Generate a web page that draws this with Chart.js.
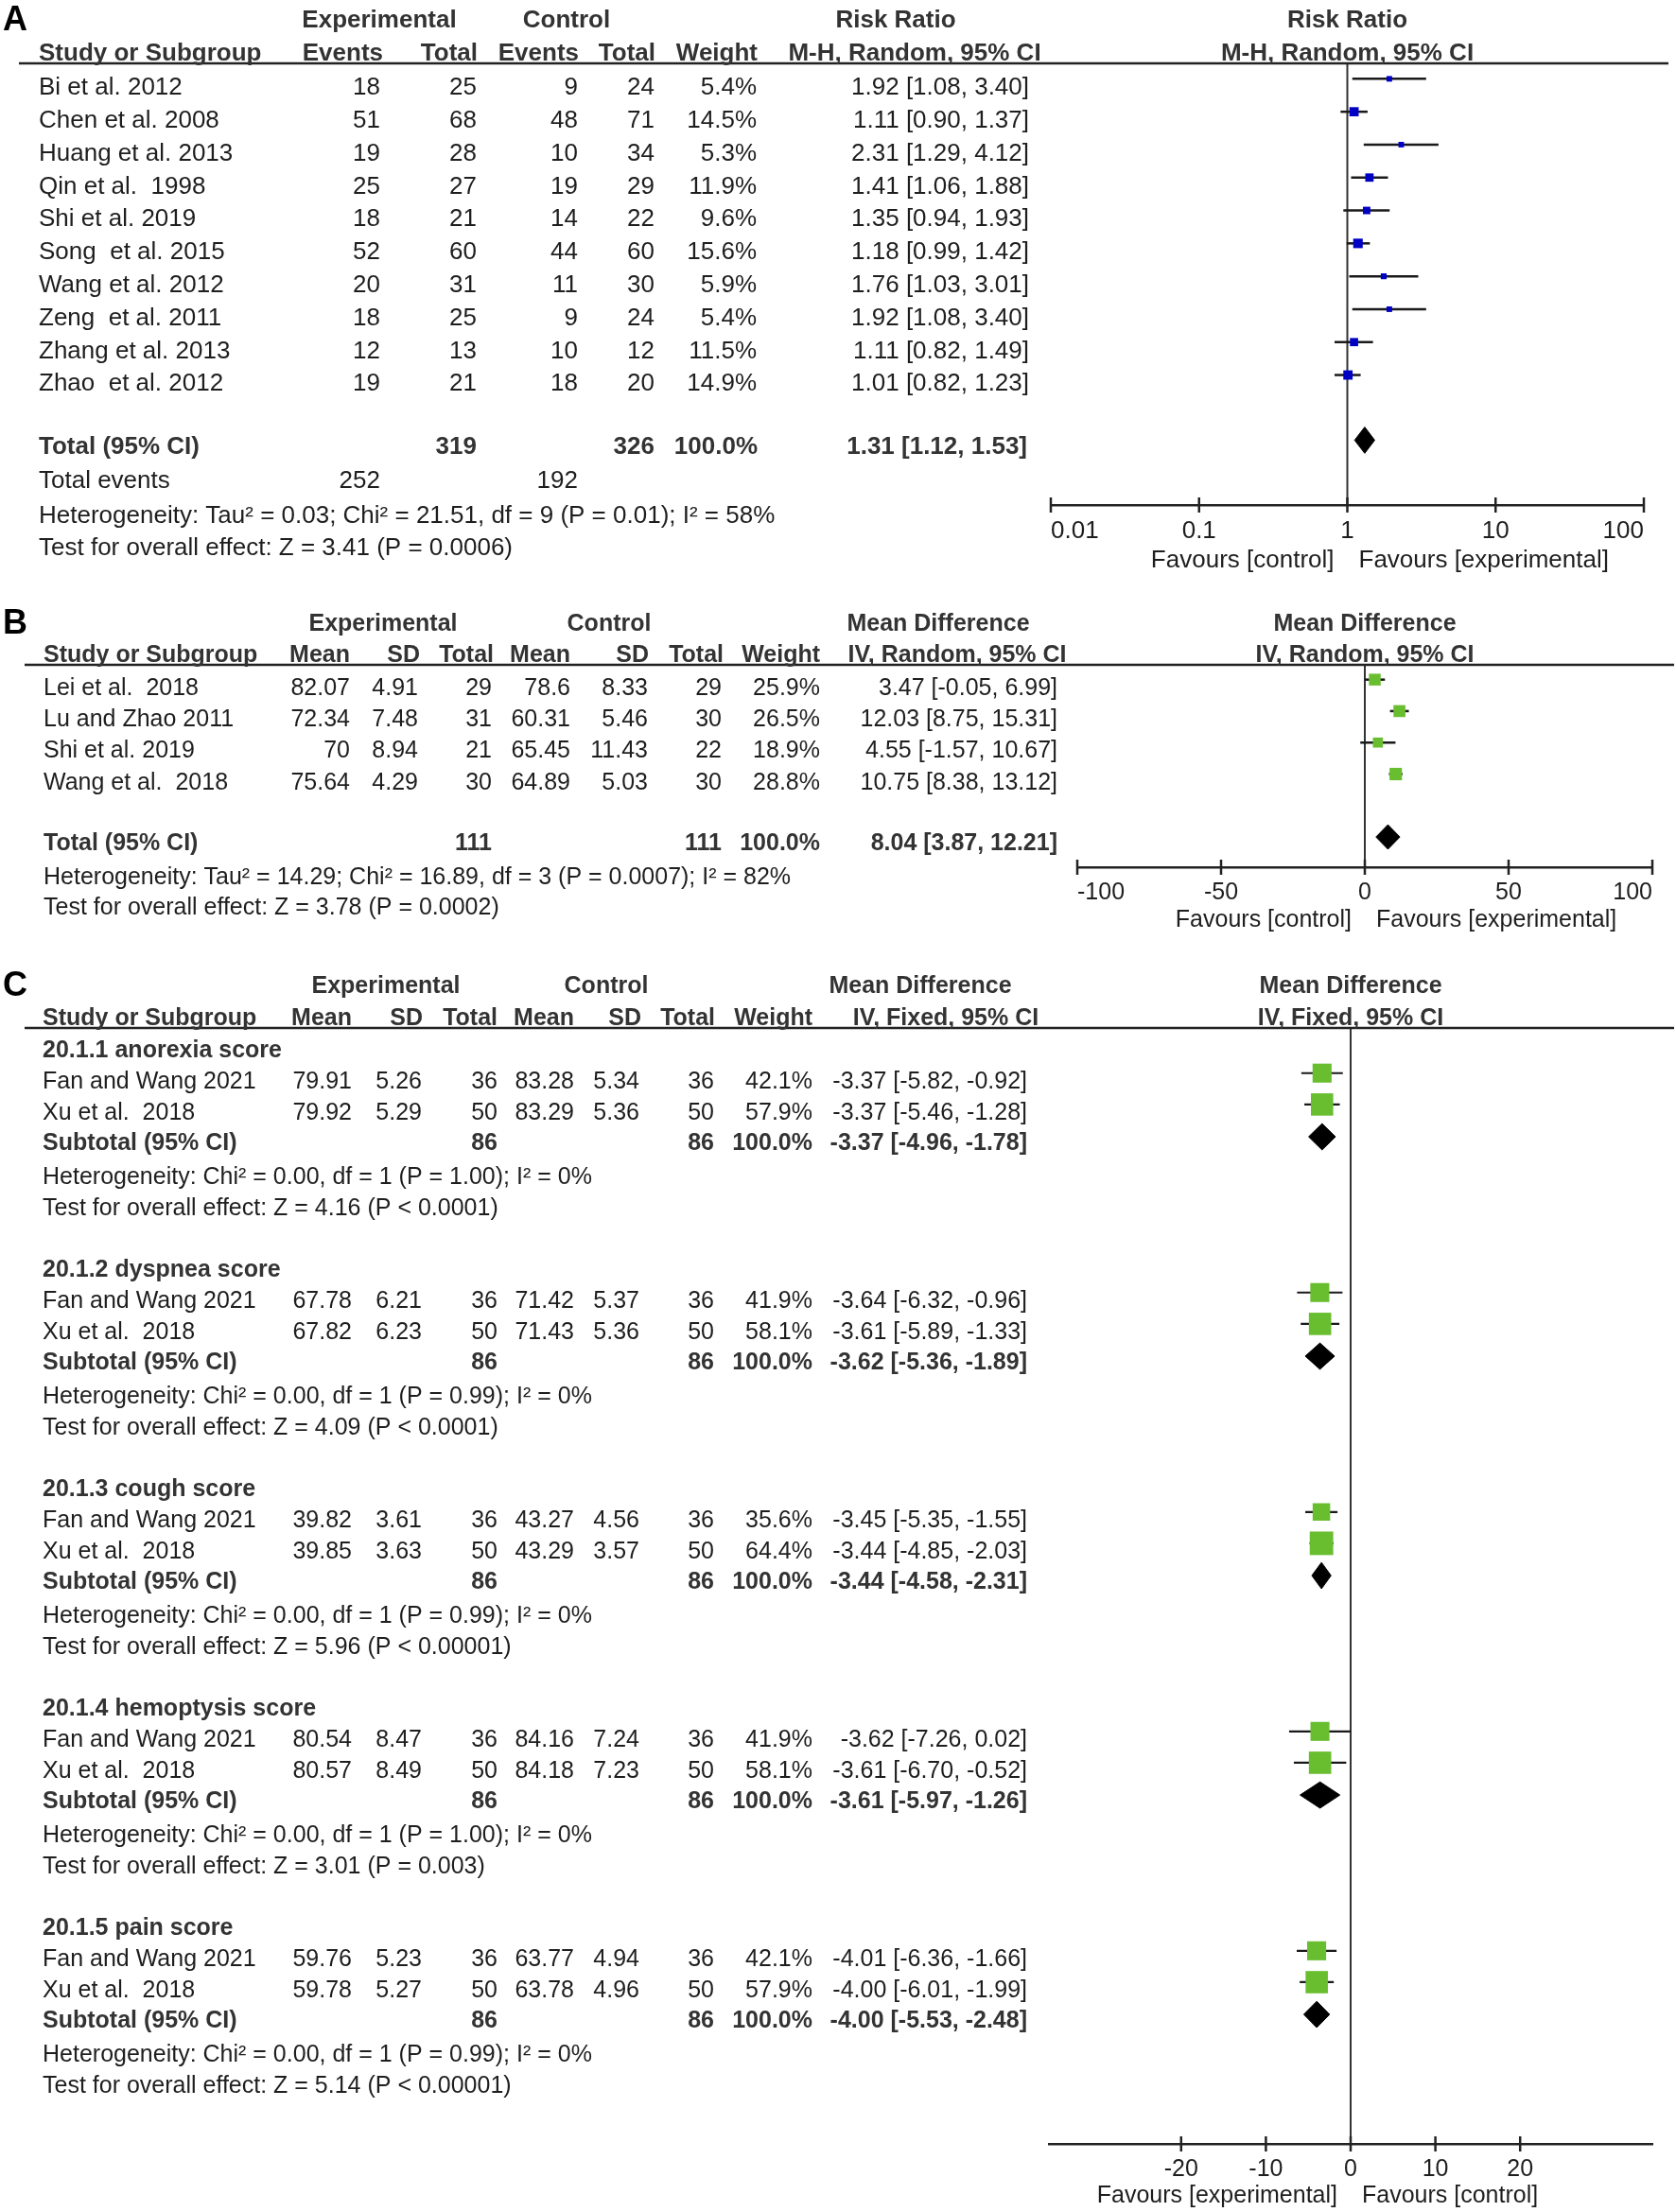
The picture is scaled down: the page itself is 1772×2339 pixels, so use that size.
<!DOCTYPE html>
<html>
<head>
<meta charset="utf-8">
<script src="https://cdn.jsdelivr.net/npm/chart.js@4.4.1/dist/chart.umd.min.js"></script>
<style>
  html, body { margin: 0; padding: 0; background: #fff; }
  body { width: 1772px; height: 2339px; position: relative; overflow: hidden; }
  .panel { position: absolute; left: 0; width: 1772px; }
  .panel canvas { display: block; }
</style>
</head>
<body>
<div class="panel" style="top:0px"><canvas id="chartA" width="1772" height="620"></canvas></div>
<div class="panel" style="top:620px"><canvas id="chartB" width="1772" height="390"></canvas></div>
<div class="panel" style="top:1010px"><canvas id="chartC" width="1772" height="1329"></canvas></div>
<script>
// ---- Panel A : risk ratio ----
const studiesA = ['Bi et al. 2012', 'Chen et al. 2008', 'Huang et al. 2013', 'Qin et al.  1998', 'Shi et al. 2019',
                  'Song  et al. 2015', 'Wang et al. 2012', 'Zeng  et al. 2011', 'Zhang et al. 2013', 'Zhao  et al. 2012'];
const expEventsA = [18, 51, 19, 25, 18, 52, 20, 18, 12, 19];
const expTotalA  = [25, 68, 28, 27, 21, 60, 31, 25, 13, 21];
const ctlEventsA = [9, 48, 10, 19, 14, 44, 11, 9, 10, 18];
const ctlTotalA  = [24, 71, 34, 29, 22, 60, 30, 24, 12, 20];
const weightA    = [5.4, 14.5, 5.3, 11.9, 9.6, 15.6, 5.9, 5.4, 11.5, 14.9];
const rrA        = [1.92, 1.11, 2.31, 1.41, 1.35, 1.18, 1.76, 1.92, 1.11, 1.01];
const rrLoA      = [1.08, 0.90, 1.29, 1.06, 0.94, 0.99, 1.03, 1.08, 0.82, 0.82];
const rrHiA      = [3.40, 1.37, 4.12, 1.88, 1.93, 1.42, 3.01, 3.40, 1.49, 1.23];
const totalA     = [1.31, 1.12, 1.53];   // estimate, lower, upper
const ticksA     = [0.01, 0.1, 1, 10, 100];

// ---- Panel B : mean difference (random) ----
const studiesB  = ['Lei et al.  2018', 'Lu and Zhao 2011', 'Shi et al. 2019', 'Wang et al.  2018'];
const expMeanB  = [82.07, 72.34, 70, 75.64];
const expSdB    = [4.91, 7.48, 8.94, 4.29];
const expNB     = [29, 31, 21, 30];
const ctlMeanB  = [78.6, 60.31, 65.45, 64.89];
const ctlSdB    = [8.33, 5.46, 11.43, 5.03];
const ctlNB     = [29, 30, 22, 30];
const weightB   = [25.9, 26.5, 18.9, 28.8];
const mdB       = [3.47, 12.03, 4.55, 10.75];
const mdLoB     = [-0.05, 8.75, -1.57, 8.38];
const mdHiB     = [6.99, 15.31, 10.67, 13.12];
const totalB    = [8.04, 3.87, 12.21];
const ticksB    = [-100, -50, 0, 50, 100];

// ---- Panel C : mean difference (fixed), five subgroups ----
const subgroupsC = ['20.1.1 anorexia score', '20.1.2 dyspnea score', '20.1.3 cough score', '20.1.4 hemoptysis score', '20.1.5 pain score'];
const studiesC   = ['Fan and Wang 2021', 'Xu et al.  2018'];
const expMeanC   = [[79.91, 79.92], [67.78, 67.82], [39.82, 39.85], [80.54, 80.57], [59.76, 59.78]];
const expSdC     = [[5.26, 5.29], [6.21, 6.23], [3.61, 3.63], [8.47, 8.49], [5.23, 5.27]];
const expNC      = [36, 50];
const ctlMeanC   = [[83.28, 83.29], [71.42, 71.43], [43.27, 43.29], [84.16, 84.18], [63.77, 63.78]];
const ctlSdC     = [[5.34, 5.36], [5.37, 5.36], [4.56, 3.57], [7.24, 7.23], [4.94, 4.96]];
const ctlNC      = [36, 50];
const weightC    = [[42.1, 57.9], [41.9, 58.1], [35.6, 64.4], [41.9, 58.1], [42.1, 57.9]];
const mdC        = [[-3.37, -3.37], [-3.64, -3.61], [-3.45, -3.44], [-3.62, -3.61], [-4.01, -4.00]];
const mdLoC      = [[-5.82, -5.46], [-6.32, -5.89], [-5.35, -4.85], [-7.26, -6.70], [-6.36, -6.01]];
const mdHiC      = [[-0.92, -1.28], [-0.96, -1.33], [-1.55, -2.03], [0.02, -0.52], [-1.66, -1.99]];
const subMdC     = [-3.37, -3.62, -3.44, -3.61, -4.00];
const subLoC     = [-4.96, -5.36, -4.58, -5.97, -5.53];
const subHiC     = [-1.78, -1.89, -2.31, -1.26, -2.48];
const hetC       = ['Heterogeneity: Chi² = 0.00, df = 1 (P = 1.00); I² = 0%',
                    'Heterogeneity: Chi² = 0.00, df = 1 (P = 0.99); I² = 0%',
                    'Heterogeneity: Chi² = 0.00, df = 1 (P = 0.99); I² = 0%',
                    'Heterogeneity: Chi² = 0.00, df = 1 (P = 1.00); I² = 0%',
                    'Heterogeneity: Chi² = 0.00, df = 1 (P = 0.99); I² = 0%'];
const testC      = ['Test for overall effect: Z = 4.16 (P < 0.0001)',
                    'Test for overall effect: Z = 4.09 (P < 0.0001)',
                    'Test for overall effect: Z = 5.96 (P < 0.00001)',
                    'Test for overall effect: Z = 3.01 (P = 0.003)',
                    'Test for overall effect: Z = 5.14 (P < 0.00001)'];
const ticksC     = [-20, -10, 0, 10, 20];

const FONT = "'Liberation Sans', Arial, Helvetica, sans-serif";
const BLUE = '#0000c4';
const GREEN = '#69be2f';
const SQUARE_SHIFT = -0.28;   // boxes sit a little above the text line
const DIAMOND_SHIFT = -0.2;

const ci = (e, l, h) => `${e.toFixed(2)} [${l.toFixed(2)}, ${h.toFixed(2)}]`;
const pct = w => w.toFixed(1) + '%';

// draws the table text, header rule, tick crosses and "Favours" labels
function panelPlugin(id, items, opts) {
  return {
    id: id,
    afterDraw(chart) {
      const ctx = chart.ctx, xs = chart.scales.x, ys = chart.scales.y, ca = chart.chartArea;
      ctx.save();
      ctx.strokeStyle = '#222';
      ctx.lineWidth = 2.5;
      ctx.beginPath();
      ctx.moveTo(opts.ruleFrom, ca.top);
      ctx.lineTo(opts.ruleTo, ca.top);
      ctx.stroke();
      xs.ticks.forEach(t => {
        const px = xs.getPixelForValue(t.value);
        ctx.beginPath();
        ctx.moveTo(px, xs.top - 8);
        ctx.lineTo(px, xs.top + 8);
        ctx.stroke();
      });
      const nullPx = xs.getPixelForValue(opts.nullValue);
      ctx.font = `${opts.fontSize}px ${FONT}`;
      ctx.fillStyle = '#1e1e1e';
      ctx.textBaseline = 'middle';
      ctx.textAlign = 'right';
      ctx.fillText(opts.favours[0], nullPx - 14, xs.top + opts.favoursDy);
      ctx.textAlign = 'left';
      ctx.fillText(opts.favours[1], nullPx + 12, xs.top + opts.favoursDy);
      items.forEach(it => {
        ctx.font = `${it.bold ? 'bold ' : ''}${it.size || opts.fontSize}px ${FONT}`;
        ctx.fillStyle = it.color || (it.bold ? '#333' : '#1e1e1e');
        ctx.textAlign = it.align || 'left';
        const x = it.x === 'plot' ? (ca.left + ca.right) / 2 : it.x;
        ctx.fillText(it.text, x, ys.getPixelForValue(it.row));
      });
      ctx.restore();
    }
  };
}

function buildPanel(canvasId, cfg) {
  const datasets = [];
  // study boxes
  datasets.push({
    data: cfg.est.map((v, i) => ({ x: v, y: cfg.rows[i] + SQUARE_SHIFT })),
    showLine: false,
    pointStyle: 'rect',
    pointRadius: cfg.weight.map(w => cfg.boxK * Math.sqrt(w) / Math.SQRT2),
    pointBackgroundColor: cfg.color,
    pointBorderWidth: 0,
    order: 0
  });
  // summary diamonds
  cfg.summary.forEach(s => {
    const r = s.row + DIAMOND_SHIFT;
    datasets.push({
      data: [{ x: s.lo, y: r }, { x: s.est, y: r - cfg.diamondH }, { x: s.hi, y: r },
             { x: s.est, y: r + cfg.diamondH }, { x: s.lo, y: r }],
      borderColor: '#000', backgroundColor: '#000', borderWidth: 1,
      fill: 'shape', pointRadius: 0, order: 1
    });
  });
  // confidence interval whiskers
  cfg.est.forEach((v, i) => {
    datasets.push({
      data: [{ x: cfg.lo[i], y: cfg.rows[i] + SQUARE_SHIFT }, { x: cfg.hi[i], y: cfg.rows[i] + SQUARE_SHIFT }],
      borderColor: '#1a1a1a', borderWidth: cfg.ciWidth, pointRadius: 0, fill: false, order: 2
    });
  });
  // line of no effect
  datasets.push({
    data: [{ x: cfg.nullValue, y: cfg.yMin }, { x: cfg.nullValue, y: cfg.yMax }],
    borderColor: '#333', borderWidth: 2, pointRadius: 0, fill: false, order: 3
  });

  return new Chart(document.getElementById(canvasId), {
    type: 'line',
    data: { datasets: datasets },
    options: {
      responsive: false,
      animation: false,
      events: [],
      layout: {
        autoPadding: false,
        padding: { left: cfg.left, right: 1772 - cfg.right, top: cfg.top, bottom: cfg.height - cfg.bottom - 60 }
      },
      elements: { line: { tension: 0 } },
      plugins: { legend: { display: false }, tooltip: { enabled: false } },
      scales: {
        x: {
          type: cfg.xType,
          min: cfg.xMin,
          max: cfg.xMax,
          afterBuildTicks: s => { s.ticks = cfg.ticks.map(v => ({ value: v })); },
          afterFit: s => { s.height = 60; },
          grid: { display: true, drawOnChartArea: false, drawTicks: false },
          border: { display: true, color: '#222', width: 2.5 },
          ticks: {
            autoSkip: false, maxRotation: 0, align: cfg.tickAlign, padding: 12,
            color: '#1e1e1e', font: { family: FONT, size: cfg.fontSize },
            callback: v => String(v)
          }
        },
        y: { type: 'linear', display: false, reverse: true, min: cfg.yMin, max: cfg.yMax }
      }
    },
    plugins: [panelPlugin(canvasId + 'Text', cfg.items, cfg)]
  });
}

// ---------- Panel A ----------
(function () {
  const H1 = -2.04, H2 = -1.05;
  const items = [
    { row: H1, x: 3, text: 'A', bold: true, size: 36, color: '#000' },
    { row: H1, x: 401, text: 'Experimental', align: 'center', bold: true },
    { row: H1, x: 599, text: 'Control', align: 'center', bold: true },
    { row: H1, x: 947, text: 'Risk Ratio', align: 'center', bold: true },
    { row: H1, x: 'plot', text: 'Risk Ratio', align: 'center', bold: true },
    { row: H2, x: 41, text: 'Study or Subgroup', bold: true },
    { row: H2, x: 405, text: 'Events', align: 'right', bold: true },
    { row: H2, x: 505, text: 'Total', align: 'right', bold: true },
    { row: H2, x: 612, text: 'Events', align: 'right', bold: true },
    { row: H2, x: 693, text: 'Total', align: 'right', bold: true },
    { row: H2, x: 801, text: 'Weight', align: 'right', bold: true },
    { row: H2, x: 967, text: 'M-H, Random, 95% CI', align: 'center', bold: true },
    { row: H2, x: 'plot', text: 'M-H, Random, 95% CI', align: 'center', bold: true }
  ];
  studiesA.forEach((s, i) => {
    items.push({ row: i, x: 41, text: s });
    items.push({ row: i, x: 402, text: String(expEventsA[i]), align: 'right' });
    items.push({ row: i, x: 504, text: String(expTotalA[i]), align: 'right' });
    items.push({ row: i, x: 611, text: String(ctlEventsA[i]), align: 'right' });
    items.push({ row: i, x: 692, text: String(ctlTotalA[i]), align: 'right' });
    items.push({ row: i, x: 800, text: pct(weightA[i]), align: 'right' });
    items.push({ row: i, x: 1088, text: ci(rrA[i], rrLoA[i], rrHiA[i]), align: 'right' });
  });
  const sum = (a) => a.reduce((p, c) => p + c, 0);
  const TR = 10.9;
  items.push({ row: TR, x: 41, text: 'Total (95% CI)', bold: true });
  items.push({ row: TR, x: 504, text: String(sum(expTotalA)), align: 'right', bold: true });
  items.push({ row: TR, x: 692, text: String(sum(ctlTotalA)), align: 'right', bold: true });
  items.push({ row: TR, x: 801, text: '100.0%', align: 'right', bold: true });
  items.push({ row: TR, x: 1086, text: ci(totalA[0], totalA[1], totalA[2]), align: 'right', bold: true });
  items.push({ row: 11.95, x: 41, text: 'Total events' });
  items.push({ row: 11.95, x: 402, text: String(sum(expEventsA)), align: 'right' });
  items.push({ row: 11.95, x: 611, text: String(sum(ctlEventsA)), align: 'right' });
  items.push({ row: 13, x: 41, text: 'Heterogeneity: Tau² = 0.03; Chi² = 21.51, df = 9 (P = 0.01); I² = 58%' });
  items.push({ row: 14, x: 41, text: 'Test for overall effect: Z = 3.41 (P = 0.0006)' });

  buildPanel('chartA', {
    items: items, height: 620, left: 1111, right: 1738, top: 67, bottom: 534, fontSize: 26,
    xType: 'logarithmic', xMin: 0.01, xMax: 100, ticks: ticksA, tickAlign: 'inner',
    yMin: -0.75, yMax: 12.67, nullValue: 1,
    rows: studiesA.map((_, i) => i), est: rrA, lo: rrLoA, hi: rrHiA, weight: weightA,
    summary: [{ row: TR, est: totalA[0], lo: totalA[1], hi: totalA[2] }],
    boxK: 2.55, color: BLUE, diamondH: 0.4, ciWidth: 2.5,
    ruleFrom: 20, ruleTo: 1764, favours: ['Favours [control]', 'Favours [experimental]'], favoursDy: 59
  });
})();

// ---------- Panel B ----------
(function () {
  const H1 = -2.04, H2 = -1.05;
  const items = [
    { row: H1, x: 3, text: 'B', bold: true, size: 36, color: '#000' },
    { row: H1, x: 405, text: 'Experimental', align: 'center', bold: true },
    { row: H1, x: 644, text: 'Control', align: 'center', bold: true },
    { row: H1, x: 992, text: 'Mean Difference', align: 'center', bold: true },
    { row: H1, x: 'plot', text: 'Mean Difference', align: 'center', bold: true },
    { row: H2, x: 46, text: 'Study or Subgroup', bold: true },
    { row: H2, x: 370, text: 'Mean', align: 'right', bold: true },
    { row: H2, x: 444, text: 'SD', align: 'right', bold: true },
    { row: H2, x: 522, text: 'Total', align: 'right', bold: true },
    { row: H2, x: 603, text: 'Mean', align: 'right', bold: true },
    { row: H2, x: 686, text: 'SD', align: 'right', bold: true },
    { row: H2, x: 765, text: 'Total', align: 'right', bold: true },
    { row: H2, x: 867, text: 'Weight', align: 'right', bold: true },
    { row: H2, x: 1012, text: 'IV, Random, 95% CI', align: 'center', bold: true },
    { row: H2, x: 'plot', text: 'IV, Random, 95% CI', align: 'center', bold: true }
  ];
  studiesB.forEach((s, i) => {
    items.push({ row: i, x: 46, text: s });
    items.push({ row: i, x: 370, text: String(expMeanB[i]), align: 'right' });
    items.push({ row: i, x: 442, text: String(expSdB[i]), align: 'right' });
    items.push({ row: i, x: 520, text: String(expNB[i]), align: 'right' });
    items.push({ row: i, x: 603, text: String(ctlMeanB[i]), align: 'right' });
    items.push({ row: i, x: 685, text: String(ctlSdB[i]), align: 'right' });
    items.push({ row: i, x: 763, text: String(ctlNB[i]), align: 'right' });
    items.push({ row: i, x: 867, text: pct(weightB[i]), align: 'right' });
    items.push({ row: i, x: 1118, text: ci(mdB[i], mdLoB[i], mdHiB[i]), align: 'right' });
  });
  const sum = (a) => a.reduce((p, c) => p + c, 0);
  const TR = 4.92;
  items.push({ row: TR, x: 46, text: 'Total (95% CI)', bold: true });
  items.push({ row: TR, x: 520, text: String(sum(expNB)), align: 'right', bold: true });
  items.push({ row: TR, x: 763, text: String(sum(ctlNB)), align: 'right', bold: true });
  items.push({ row: TR, x: 867, text: '100.0%', align: 'right', bold: true });
  items.push({ row: TR, x: 1118, text: ci(totalB[0], totalB[1], totalB[2]), align: 'right', bold: true });
  items.push({ row: 6, x: 46, text: 'Heterogeneity: Tau² = 14.29; Chi² = 16.89, df = 3 (P = 0.0007); I² = 82%' });
  items.push({ row: 6.97, x: 46, text: 'Test for overall effect: Z = 3.78 (P = 0.0002)' });

  buildPanel('chartB', {
    items: items, height: 390, left: 1139, right: 1747, top: 83, bottom: 297, fontSize: 25,
    xType: 'linear', xMin: -100, xMax: 100, ticks: ticksB, tickAlign: 'inner',
    yMin: -0.75, yMax: 5.68, nullValue: 0,
    rows: studiesB.map((_, i) => i), est: mdB, lo: mdLoB, hi: mdHiB, weight: weightB,
    summary: [{ row: TR, est: totalB[0], lo: totalB[1], hi: totalB[2] }],
    boxK: 2.45, color: GREEN, diamondH: 0.39, ciWidth: 2.5,
    ruleFrom: 26, ruleTo: 1770, favours: ['Favours [control]', 'Favours [experimental]'], favoursDy: 56
  });
})();

// ---------- Panel C ----------
(function () {
  const H1 = -2.05, H2 = -1.03;
  const items = [
    { row: H1, x: 3, text: 'C', bold: true, size: 36, color: '#000' },
    { row: H1, x: 408, text: 'Experimental', align: 'center', bold: true },
    { row: H1, x: 641, text: 'Control', align: 'center', bold: true },
    { row: H1, x: 973, text: 'Mean Difference', align: 'center', bold: true },
    { row: H1, x: 'plot', text: 'Mean Difference', align: 'center', bold: true },
    { row: H2, x: 45, text: 'Study or Subgroup', bold: true },
    { row: H2, x: 372, text: 'Mean', align: 'right', bold: true },
    { row: H2, x: 447, text: 'SD', align: 'right', bold: true },
    { row: H2, x: 526, text: 'Total', align: 'right', bold: true },
    { row: H2, x: 607, text: 'Mean', align: 'right', bold: true },
    { row: H2, x: 678, text: 'SD', align: 'right', bold: true },
    { row: H2, x: 756, text: 'Total', align: 'right', bold: true },
    { row: H2, x: 859, text: 'Weight', align: 'right', bold: true },
    { row: H2, x: 1000, text: 'IV, Fixed, 95% CI', align: 'center', bold: true },
    { row: H2, x: 'plot', text: 'IV, Fixed, 95% CI', align: 'center', bold: true }
  ];
  const rows = [], est = [], lo = [], hi = [], weight = [], summary = [];
  const studyRow = [1, 2];
  subgroupsC.forEach((g, k) => {
    const base = k * 7;
    items.push({ row: base, x: 45, text: g, bold: true });
    studiesC.forEach((s, j) => {
      const r = base + studyRow[j];
      items.push({ row: r, x: 45, text: s });
      items.push({ row: r, x: 372, text: expMeanC[k][j].toFixed(2), align: 'right' });
      items.push({ row: r, x: 446, text: expSdC[k][j].toFixed(2), align: 'right' });
      items.push({ row: r, x: 526, text: String(expNC[j]), align: 'right' });
      items.push({ row: r, x: 607, text: ctlMeanC[k][j].toFixed(2), align: 'right' });
      items.push({ row: r, x: 676, text: ctlSdC[k][j].toFixed(2), align: 'right' });
      items.push({ row: r, x: 755, text: String(ctlNC[j]), align: 'right' });
      items.push({ row: r, x: 859, text: pct(weightC[k][j]), align: 'right' });
      items.push({ row: r, x: 1086, text: ci(mdC[k][j], mdLoC[k][j], mdHiC[k][j]), align: 'right' });
      rows.push(r); est.push(mdC[k][j]); lo.push(mdLoC[k][j]); hi.push(mdHiC[k][j]); weight.push(weightC[k][j]);
    });
    const sr = base + 2.95;
    items.push({ row: sr, x: 45, text: 'Subtotal (95% CI)', bold: true });
    items.push({ row: sr, x: 526, text: String(expNC[0] + expNC[1]), align: 'right', bold: true });
    items.push({ row: sr, x: 755, text: String(ctlNC[0] + ctlNC[1]), align: 'right', bold: true });
    items.push({ row: sr, x: 859, text: '100.0%', align: 'right', bold: true });
    items.push({ row: sr, x: 1086, text: ci(subMdC[k], subLoC[k], subHiC[k]), align: 'right', bold: true });
    items.push({ row: base + 4.05, x: 45, text: hetC[k] });
    items.push({ row: base + 5.05, x: 45, text: testC[k] });
    summary.push({ row: sr, est: subMdC[k], lo: subLoC[k], hi: subHiC[k] });
  });

  buildPanel('chartC', {
    items: items, height: 1329, left: 1109, right: 1747, top: 77, bottom: 1257, fontSize: 25,
    xType: 'linear', xMin: -35.6, xMax: 35.6, ticks: ticksC, tickAlign: 'center',
    yMin: -0.72, yMax: 34.88, nullValue: 0,
    rows: rows, est: est, lo: lo, hi: hi, weight: weight, summary: summary,
    boxK: 3.1, color: GREEN, diamondH: 0.42, ciWidth: 2.2,
    ruleFrom: 26, ruleTo: 1770, favours: ['Favours [experimental]', 'Favours [control]'], favoursDy: 55
  });
})();
</script>
</body>
</html>
